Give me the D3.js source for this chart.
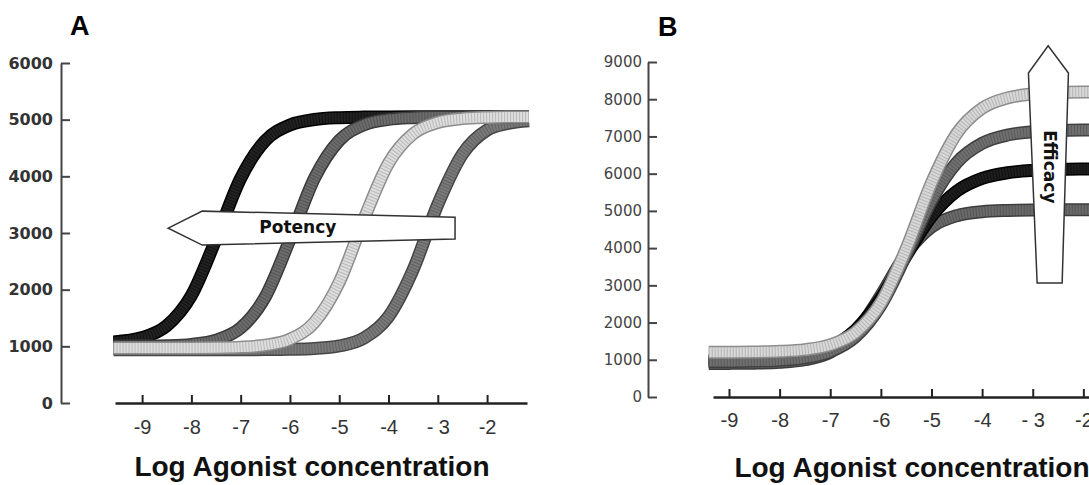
<!DOCTYPE html>
<html>
<head>
<meta charset="utf-8">
<script src="https://cdn.jsdelivr.net/npm/d3@7"></script>
<style>
  body { margin: 0; background: #fff; }
</style>
</head>
<body>
<svg width="1089" height="485"></svg>
<script>
// panel A: four full agonists, same max, shifted potency (log M)
var concA = [-9.58, -9, -8.5, -8, -7.5, -7, -6.5, -6, -5.5, -5, -4.5, -4, -3.5, -3, -2.5, -2, -1.6, -1.15];
var blackA = [1077, 1155, 1364, 1898, 2890, 3966, 4630, 4906, 5003, 5035, 5045, 5049, 5050, 5050, 5050, 5050, 5050, 5050];
var darkA = [1001, 1004, 1011, 1035, 1109, 1324, 1875, 2885, 3971, 4633, 4908, 5004, 5035, 5046, 5049, 5050, 5050, 5050];
var lightA = [970, 970, 971, 972, 975, 986, 1021, 1126, 1427, 2132, 3244, 4231, 4750, 4950, 5018, 5040, 5046, 5048];
var midA = [940, 940, 940, 940, 940, 941, 942, 947, 961, 1007, 1145, 1525, 2355, 3505, 4392, 4816, 4930, 4980];

// panel B: four agonists with different max response
var concB = [-9.4, -9, -8.5, -8, -7.5, -7, -6.5, -6, -5.5, -5, -4.5, -4, -3.5, -3, -2.5, -2, -1.7];
var grayB = [901, 903, 910, 933, 1001, 1204, 1729, 2728, 3854, 4568, 4872, 4979, 5013, 5025, 5028, 5030, 5030];
var blackB = [985, 990, 1005, 1041, 1131, 1343, 1804, 2647, 3792, 4849, 5531, 5873, 6024, 6087, 6113, 6123, 6126];
var midB = [953, 956, 965, 990, 1055, 1220, 1622, 2465, 3821, 5278, 6297, 6815, 7038, 7126, 7160, 7173, 7176];
var lightB = [1201, 1203, 1209, 1226, 1273, 1401, 1738, 2529, 3985, 5754, 7080, 7757, 8036, 8141, 8179, 8193, 8196];

var xTicks = [-9, -8, -7, -6, -5, -4, -3, -2];
var xTickLabels = ["-9", "-8", "-7", "-6", "-5", "-4", "- 3", "-2"];
var yTicksA = [0, 1000, 2000, 3000, 4000, 5000, 6000];
var yTicksB = [0, 1000, 2000, 3000, 4000, 5000, 6000, 7000, 8000, 9000];

// annotation arrows, in data units
var potencyArrow = [[-8.47, 3086], [-7.78, 3386], [-2.65, 3280], [-2.65, 2892], [-7.78, 2787]];
var potencyLabel = [-5.84, 3104];
var efficacyArrow = [[-2.696, 9435], [-2.295, 8702], [-2.419, 3065], [-2.913, 3065], [-3.085, 8702]];
var efficacyLabel = [-2.66, 6183];

var svg = d3.select("svg");

var xA = d3.scaleLinear().domain([-9.55, -1.19]).range([115, 527]),
    yA = d3.scaleLinear().domain([0, 6000]).range([403, 63]);
var xB = d3.scaleLinear().domain([-9.316, -1.77]).range([713, 1095]),
    yB = d3.scaleLinear().domain([0, 9000]).range([397, 62]);

// thick banded curve that looks like a row of square markers
function drawCurve(conc, vals, x, y, fill, edge) {
    var line = d3.line()
        .x(function(d, i) { return x(conc[i]); })
        .y(function(d) { return y(d); })
        .curve(d3.curveMonotoneX);
    var d = line(vals);
    svg.append("path").attr("d", d)
       .attr("fill", "none").attr("stroke", edge).attr("stroke-width", 13);
    svg.append("path").attr("d", d)
       .attr("fill", "none").attr("stroke", fill).attr("stroke-width", 10);
    svg.append("path").attr("d", d)
       .attr("fill", "none").attr("stroke", edge).attr("stroke-width", 10)
       .attr("stroke-dasharray", "1 2").attr("opacity", 0.45);
}

function styleAxis(g, lineColor, lineWidth) {
    g.attr("font-family", null).attr("font-size", null);
    g.select(".domain").attr("stroke", lineColor).attr("stroke-width", lineWidth);
    g.selectAll(".tick line").attr("stroke", lineColor).attr("stroke-width", 2);
}

// ---- panel A ----
var gyA = svg.append("g")
    .attr("transform", "translate(61,0)")
    .call(d3.axisLeft(yA).tickValues(yTicksA).tickFormat(d3.format("d"))
        .tickSize(-9).tickSizeOuter(0).tickPadding(8));
styleAxis(gyA, "#444", 2);
gyA.selectAll(".tick text")
   .attr("font-family", "DejaVu Sans").attr("font-weight", "bold")
   .attr("font-size", 16).attr("fill", "#333");

var gxA = svg.append("g")
    .attr("transform", "translate(0,403)")
    .call(d3.axisBottom(xA).tickValues(xTicks)
        .tickFormat(function(d, i) { return xTickLabels[i]; })
        .tickSize(-8).tickSizeOuter(0).tickPadding(17));
styleAxis(gxA, "#222", 2.5);
gxA.selectAll(".tick text")
   .attr("font-family", "Liberation Sans").attr("font-size", 20).attr("fill", "#333");

drawCurve(concA, midA, xA, yA, "#7a7a7a", "#454545");
drawCurve(concA, blackA, xA, yA, "#222", "#000");
drawCurve(concA, darkA, xA, yA, "#6c6c6c", "#3a3a3a");
drawCurve(concA, lightA, xA, yA, "#dedede", "#8c8c8c");

svg.append("polygon")
   .attr("points", potencyArrow.map(function(p) { return xA(p[0]) + "," + yA(p[1]); }).join(" "))
   .attr("fill", "#fff").attr("stroke", "#333").attr("stroke-width", 1.5);
svg.append("text")
   .attr("x", xA(potencyLabel[0])).attr("y", yA(potencyLabel[1]))
   .attr("text-anchor", "middle").attr("dominant-baseline", "central")
   .attr("font-family", "DejaVu Sans").attr("font-weight", "bold")
   .attr("font-size", 17).attr("fill", "#111")
   .text("Potency");

// ---- panel B ----
var gyB = svg.append("g")
    .attr("transform", "translate(648,0)")
    .call(d3.axisLeft(yB).tickValues(yTicksB).tickFormat(d3.format("d"))
        .tickSize(-9).tickSizeOuter(0).tickPadding(6));
styleAxis(gyB, "#444", 2);
gyB.selectAll(".tick text")
   .attr("font-family", "DejaVu Sans").attr("font-size", 15).attr("fill", "#444");

var gxB = svg.append("g")
    .attr("transform", "translate(0,397)")
    .call(d3.axisBottom(xB).tickValues(xTicks)
        .tickFormat(function(d, i) { return xTickLabels[i]; })
        .tickSize(-8).tickSizeOuter(0).tickPadding(16));
styleAxis(gxB, "#222", 2.5);
gxB.selectAll(".tick text")
   .attr("font-family", "Liberation Sans").attr("font-size", 20).attr("fill", "#333");

drawCurve(concB, grayB, xB, yB, "#6a6a6a", "#3c3c3c");
drawCurve(concB, blackB, xB, yB, "#1e1e1e", "#000");
drawCurve(concB, midB, xB, yB, "#707070", "#404040");
drawCurve(concB, lightB, xB, yB, "#d8d8d8", "#8c8c8c");

svg.append("polygon")
   .attr("points", efficacyArrow.map(function(p) { return xB(p[0]) + "," + yB(p[1]); }).join(" "))
   .attr("fill", "#fff").attr("stroke", "#333").attr("stroke-width", 1.5);
svg.append("text")
   .attr("transform", "translate(" + xB(efficacyLabel[0]) + "," + yB(efficacyLabel[1]) + ") rotate(90)")
   .attr("text-anchor", "middle").attr("dominant-baseline", "central")
   .attr("font-family", "DejaVu Sans").attr("font-weight", "bold")
   .attr("font-size", 17).attr("fill", "#111")
   .text("Efficacy");

// panel letters and axis titles
svg.append("text").attr("x", 70).attr("y", 35)
   .attr("font-family", "Liberation Sans").attr("font-weight", "bold").attr("font-size", 27)
   .text("A");
svg.append("text").attr("x", 658).attr("y", 36)
   .attr("font-family", "Liberation Sans").attr("font-weight", "bold").attr("font-size", 27)
   .text("B");

svg.append("text").attr("x", 312).attr("y", 476)
   .attr("text-anchor", "middle")
   .attr("font-family", "Liberation Sans").attr("font-weight", "bold").attr("font-size", 28)
   .attr("fill", "#111")
   .text("Log Agonist concentration");
svg.append("text").attr("x", 912).attr("y", 477)
   .attr("text-anchor", "middle")
   .attr("font-family", "Liberation Sans").attr("font-weight", "bold").attr("font-size", 28)
   .attr("fill", "#111")
   .text("Log Agonist concentration");
</script>
</body>
</html>
